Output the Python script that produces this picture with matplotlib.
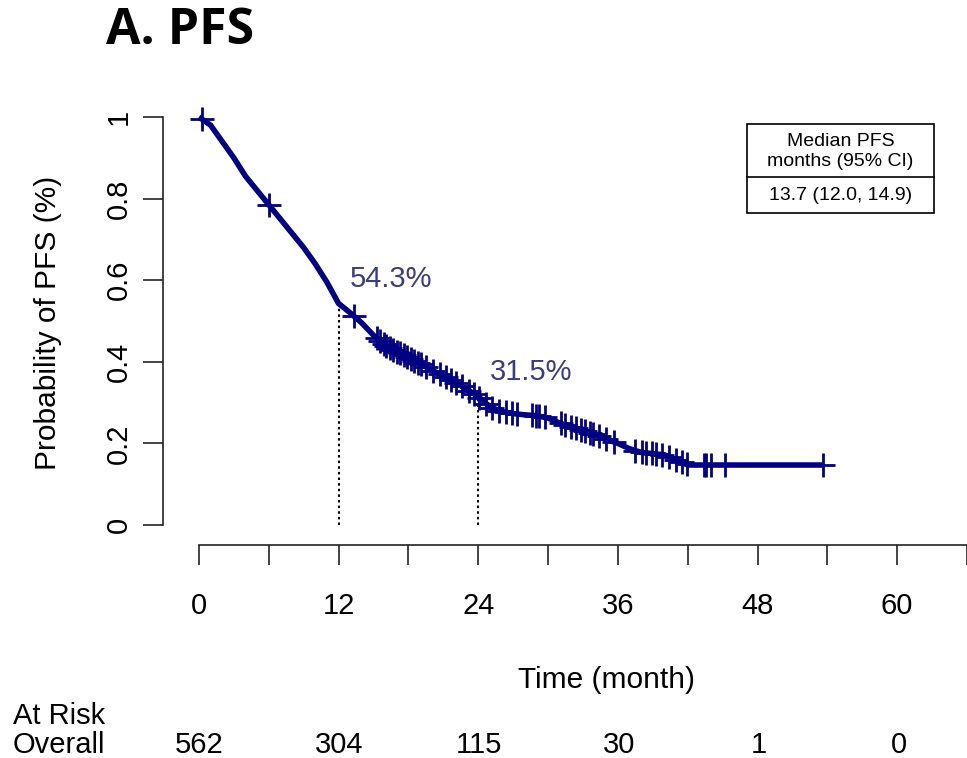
import numpy as np
import matplotlib.pyplot as plt
from matplotlib.patches import Rectangle
from matplotlib.lines import Line2D

plt.rcParams['font.family'] = ['Liberation Sans', 'DejaVu Sans']

# KM curve (months, survival)
km_time = [0, 1, 2, 3, 4, 5, 6, 7, 8, 9, 10, 11, 12, 13, 14, 15, 16, 17, 18,
           19, 20, 21, 22, 23, 24, 25, 26, 27, 28, 29, 30, 31, 32, 33, 34, 35,
           36, 37, 38, 39, 40, 41, 42, 53.6]
km_surv = [1.0, 0.98, 0.94, 0.90, 0.855, 0.82, 0.785, 0.75, 0.715, 0.68, 0.64,
           0.595, 0.543, 0.52, 0.495, 0.465, 0.44, 0.425, 0.41, 0.395, 0.38,
           0.365, 0.35, 0.333, 0.315, 0.29, 0.278, 0.273, 0.27, 0.268, 0.262,
           0.25, 0.24, 0.232, 0.222, 0.21, 0.2, 0.187, 0.178, 0.175, 0.172,
           0.16, 0.147, 0.147]

# censoring times
censor_t = [0.3, 6.0, 13.3, 15.3, 15.6, 15.9, 16.1, 16.4, 16.7, 17.0, 17.3,
            17.6, 17.9, 18.2, 18.5, 18.8, 19.1, 19.5, 20.1, 20.7, 21.2, 21.7,
            22.1, 22.6, 23.2, 23.6, 24.1, 24.7, 25.2, 25.8, 26.4, 26.9, 27.3,
            28.6, 29.0, 29.2, 29.7, 31.1, 31.5, 32.0, 32.4, 32.8, 33.2, 33.6,
            33.9, 34.4, 35.0, 35.7, 37.5, 38.1, 38.4, 38.9, 39.3, 39.8, 40.4,
            41.0, 41.5, 41.9, 43.4, 43.6, 44.0, 45.2, 53.6]

landmarks = [12, 24]
landmark_surv = [0.543, 0.315]
landmark_lbl = ['54.3%', '31.5%']

risk_times = [0, 12, 24, 36, 48, 60]
at_risk = [562, 304, 115, 30, 1, 0]

W, H = 967, 758
fig = plt.figure(figsize=(W / 100, H / 100), dpi=100)

# axes: left edge = y axis line (px 163), bottom = x axis line (px 545)
ppm = (899 - 199) / 60.0
ppu = 525 - 117
x0 = -(199 - 163) / ppm
x1 = (W - 199) / ppm
y0 = -(545 - 525) / ppu
y1 = 1 + (117 - 100) / ppu
ax = fig.add_axes([163 / W, (H - 545) / H, (W - 163) / W, (545 - 100) / H])
ax.set_xlim(x0, x1)
ax.set_ylim(y0, y1)

navy = '#000080'
ax.plot(km_time, km_surv, color=navy, lw=4.0, solid_capstyle='butt', zorder=3)
cy = np.interp(censor_t, km_time, km_surv)
ax.plot(censor_t, cy, ls='none', marker='+', ms=17, mew=2.0, color=navy, zorder=4)

for t, s, lbl in zip(landmarks, landmark_surv, landmark_lbl):
    ax.plot([t, t], [0, s], color='black', ls=(0, (1.2, 1.5)), lw=1.5, zorder=2)
    ax.text(t + 1.0, s + 0.06, lbl, fontsize=21, color='#3c3c7e', ha='left', va='center')

for sp in ['top', 'right']:
    ax.spines[sp].set_visible(False)
ax.spines['left'].set_bounds(0, 1)
ax.spines['bottom'].set_bounds(0, 72)
for sp in ['left', 'bottom']:
    ax.spines[sp].set_linewidth(1.2)
    ax.spines[sp].set_color('#222222')

ax.set_xticks(risk_times)
ax.set_xticks([6, 18, 30, 42, 54, 66], minor=True)
ax.set_yticks([0, 0.2, 0.4, 0.6, 0.8, 1.0])
ax.set_yticklabels(['0', '0.2', '0.4', '0.6', '0.8', '1'], rotation=90, va='center')
ax.tick_params(axis='x', which='both', length=14.5, width=1.2, color='#222222',
               labelsize=21, pad=19)
ax.tick_params(axis='y', length=14.5, width=1.2, color='#222222', labelsize=21, pad=7)

ax.set_ylabel('Probability of PFS (%)', fontsize=21.5, labelpad=31)

fig.text(606 / W, 1 - 680 / H, 'Time (month)', fontsize=21.5, ha='center', va='center')
fig.text(106 / W, 1 - 31 / H, 'A. PFS', fontsize=36, fontweight='bold',
         family=['Open Sans', 'DejaVu Sans'], ha='left', va='center')

# median box
bx0, bx1, by0, by1, bdiv = 747, 934, 124, 213, 177
fig.add_artist(Rectangle((bx0 / W, 1 - by1 / H), (bx1 - bx0) / W, (by1 - by0) / H,
                         transform=fig.transFigure, fill=False, ec='black', lw=1.2))
fig.add_artist(Line2D([bx0 / W, bx1 / W], [1 - bdiv / H, 1 - bdiv / H],
                      transform=fig.transFigure, color='black', lw=1.2))
fig.text((bx0 + bx1) / 2 / W, 1 - 142 / H, 'Median PFS', fontsize=14, ha='center', va='center')
fig.text((bx0 + bx1) / 2 / W, 1 - 161 / H, 'months (95% CI)', fontsize=14, ha='center', va='center')
fig.text((bx0 + bx1) / 2 / W, 1 - 195 / H, '13.7 (12.0, 14.9)', fontsize=14, ha='center', va='center')

# at risk table
fig.text(13 / W, 1 - 716 / H, 'At Risk', fontsize=21, ha='left', va='center')
fig.text(13 / W, 1 - 745 / H, 'Overall', fontsize=21, ha='left', va='center')
for t, n in zip(risk_times, at_risk):
    fig.text((199 + t * ppm) / W, 1 - 745 / H, str(n), fontsize=21, ha='center', va='center')

fig.savefig('out.png', dpi=100)
